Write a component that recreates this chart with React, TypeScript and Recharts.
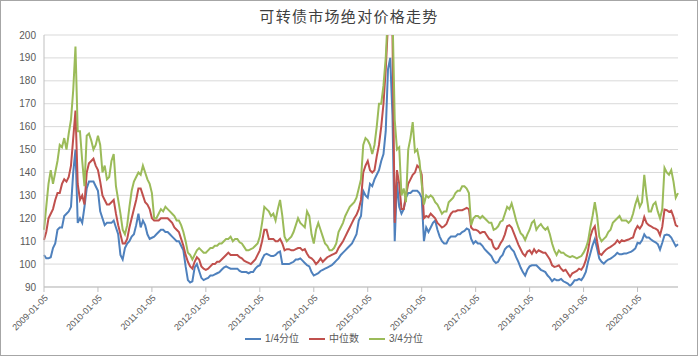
import React from "react";
import { LineChart, Line, XAxis, YAxis, CartesianGrid, Legend } from "recharts";

// one sample every half month, index 0 = 2009-01-05
const tickLabels = [
  "2009-01-05", "2010-01-05", "2011-01-05", "2012-01-05", "2013-01-05", "2014-01-05",
  "2015-01-05", "2016-01-05", "2017-01-05", "2018-01-05", "2019-01-05", "2020-01-05",
];
const stepsPerYear = 24;
const yTicks = [90, 100, 110, 120, 130, 140, 150, 160, 170, 180, 190, 200];

const q1 = [
  104, 102.5, 102.5, 103, 107, 109, 115, 116, 116, 121,
  122, 123, 125, 140, 150, 118, 120, 118, 125, 133,
  136, 136, 136, 134, 132, 123, 120, 117, 118, 118,
  118, 119, 116, 113, 104, 102, 107, 109, 110, 112,
  113, 117, 122, 116, 119, 117, 113, 111, 111.5, 112,
  113, 114, 115, 115, 114, 114, 113, 112, 111, 110,
  110, 108, 106, 99, 93, 92, 92.5, 98.5, 100, 97,
  94, 93, 93.5, 94, 95, 95, 95.5, 96, 96.5, 97.5,
  98.5, 99, 98.5, 98, 98, 98, 98, 97, 96.5, 96.5,
  96.5, 96, 96.5, 96.5, 98, 99, 99.5, 102, 104, 104.5,
  104, 103.5, 103.5, 104, 105, 105.5, 100, 100, 100, 100,
  100.5, 101, 102, 102, 102.5, 101.5, 100.5, 99.5, 99, 96.5,
  95, 95.5, 96, 97, 97.5, 98, 98.5, 99, 99.5, 100.5,
  101.5, 102.5, 104, 105, 106, 107, 108, 109, 111, 113,
  119, 121, 132, 130, 129, 135, 134, 137, 139, 141,
  145, 148, 158, 185, 190, 165, 110, 136, 125, 122,
  124, 129, 131, 131, 132, 132, 132, 131, 129, 110,
  116, 114, 116, 118, 119, 115, 112, 110, 109, 109,
  111, 112, 112, 112, 113, 113, 114, 114.5, 115.5, 115,
  111, 109, 110, 109, 109, 108, 106.5, 105.5, 104.5, 103.5,
  101.5, 100.5, 101, 103, 104, 106.5, 107.5, 108, 106.5, 105.5,
  103, 101, 98.5, 96.5, 95, 97.5, 99, 99.5, 99.5, 99.5,
  98.5, 97.5, 97, 96.5, 95, 94, 92.5, 93.5, 93, 93,
  93.5, 92.5, 92, 91.5, 90.5, 91.5, 93, 93, 93.5, 93,
  94.5, 96.6, 101, 104.6, 108.2, 110.9, 106.8, 102.4, 101, 100.2,
  101.2, 102, 102.4, 103.1, 103.9, 104.9, 104.3, 104.3, 104.6, 104.6,
  105, 105.3, 106, 106.8, 109.3, 109, 110.4, 113, 111.6, 111.6,
  110.7, 110, 109.5, 108.7, 106.3, 109.3, 112.6, 112.9, 112.6, 111.6,
  109.7, 107.8, 108.7,
];

const median = [
  110.5, 114, 120, 122, 124, 128, 131, 131, 135, 137,
  136, 138, 143, 155, 167, 135, 128, 130, 126, 140,
  144, 145, 146, 143, 141, 136, 130, 128, 126, 126,
  127, 128, 122, 117, 113, 109, 109, 111, 116, 120,
  124, 128, 133, 133, 130, 127, 126, 124, 120, 119,
  119, 119, 120, 120, 120, 120, 119, 118, 116, 115,
  114, 111, 108, 104, 101, 99, 98, 101, 103, 102,
  99, 98, 97.5, 98, 99, 100, 100, 101, 101, 102,
  103, 104, 105, 104, 104, 104, 104, 103, 102.5, 101.5,
  101, 100.5, 100, 101, 102, 104, 106, 110, 115, 115,
  111, 111, 111, 110, 110, 111, 109, 106, 106.5, 106.5,
  106, 106, 106.5, 107, 107, 106, 106.5, 104.5, 103, 102.5,
  101.5, 100, 101, 102.5, 101, 102, 103, 103.5, 104, 104.5,
  105, 107, 108.5, 110, 112, 114, 116, 118, 120, 121.5,
  124, 128, 140, 143, 145, 141, 140, 141, 147, 152,
  160, 170, 185, 205, 210, 200, 118, 141, 135, 124,
  124, 130, 135, 137, 139, 140, 143, 142, 139, 120,
  121, 120.5, 122, 121, 120, 118, 117, 116, 116.5, 117.5,
  120, 122, 123, 123, 123.5, 123.5, 123.5, 124, 124.5, 124,
  116, 115, 115, 114.5, 113.5, 114, 114, 112.5, 111, 110.5,
  107.5, 106.5, 107, 109, 110.5, 113, 116.5, 117, 116, 113.5,
  111, 108.5, 106.5, 104.5, 103.5, 105.5, 106, 104.5, 106.5, 105,
  106, 105.5, 105, 105, 103.5, 102, 99.5, 98.8, 99, 99.5,
  98, 97, 97.5, 96, 94.5, 96, 96.5, 97, 98, 97.5,
  99, 101.7, 106, 112, 115, 116.5, 110, 104.6, 104, 105.3,
  106.3, 107, 107.5, 108.2, 109, 110.4, 109.3, 110.4, 110, 110.4,
  110.7, 111.2, 111.6, 114.8, 116.6, 115.5, 117, 120.6, 118, 117,
  116.5, 115.8, 115.5, 114.8, 112.6, 116.3, 123.8, 123.5, 122.8, 123.3,
  120.6, 117, 116.3,
];

const q3 = [
  115, 125, 135, 141, 135, 140, 145, 152, 151, 155,
  150, 157, 163, 176, 195, 158, 158, 145, 134, 156,
  157, 154, 150, 152, 156, 152, 140, 143, 137, 138,
  145, 148, 134, 128, 122, 115, 113, 117, 125, 132,
  136, 138, 140, 139, 143, 140, 137, 135, 131, 120,
  120, 122, 124, 123, 125, 124, 123, 122, 121, 119,
  119, 117, 114, 110, 105, 104, 102, 104, 106, 107,
  106, 105, 105, 106, 107, 107, 108, 108, 109, 109,
  110, 111, 111, 112, 110, 111, 111, 109.5, 109, 107.5,
  106, 106, 106.5, 107, 108, 109, 112, 118, 125, 124,
  123, 121, 122, 119, 124, 128, 121, 112, 110, 111,
  112, 114, 117, 120, 118, 117, 116, 123, 121, 113,
  109, 115, 118, 115, 112, 109, 108, 106, 106, 107,
  109, 114, 116, 118, 121, 123, 125, 126, 127, 129,
  133, 137, 152, 155, 154, 152, 148, 152, 160, 170,
  170, 178, 190, 210, 215, 210, 163, 150, 151, 130,
  133, 127, 150, 155, 162, 149, 150, 145, 135, 126,
  130, 129, 130, 129, 127, 126, 124, 122, 123, 123,
  127, 128, 129, 131, 132, 132, 134, 134, 133, 131,
  117, 120, 121, 121, 120, 121, 120, 119, 118, 118,
  115, 115.5, 116.5, 118.5, 119, 122, 125, 124, 126.5, 123,
  119, 116, 113.5, 112.5, 110.5, 113, 115, 118, 119, 115,
  116.5, 117.5, 116, 115, 116, 113, 109, 106, 104, 106,
  105, 105, 104, 103.5, 103, 103.5, 103, 102.5, 103, 103.5,
  105, 107, 110, 116, 121, 127, 121, 112, 110, 111,
  112, 114, 115, 118, 119, 120, 121, 119, 119, 119,
  118, 119, 122, 126, 129, 125, 127, 139, 130, 123,
  123, 126, 127, 123, 120, 124, 142, 140, 139, 141,
  136, 129, 131,
];

const seriesNames = ["1/4分位", "中位数", "3/4分位"];

const data = q1.map((v, i) => ({ i, q1: v, median: median[i], q3: q3[i] }));
const xTicks = tickLabels.map((_, k) => k * stepsPerYear);

const axisFont = "'Liberation Sans', 'Noto Sans CJK SC', sans-serif";

export default function App() {
  return (
    <div style={{ position: "absolute", left: 0, top: 0, width: 698, height: 356, background: "#fff" }}>
      <div
        style={{
          position: "absolute",
          left: 0,
          top: 6,
          width: 698,
          textAlign: "center",
          fontFamily: "'Noto Sans CJK SC', sans-serif",
          fontSize: 15,
          letterSpacing: 1.3,
          color: "#404040",
          lineHeight: "20px",
        }}
      >
        可转债市场绝对价格走势
      </div>
      <LineChart width={698} height={356} data={data} margin={{ top: 35, right: 20, bottom: 6, left: 0 }}>
        <CartesianGrid vertical={false} stroke="#d9d9d9" />
        <XAxis
          type="number"
          dataKey="i"
          domain={[0, q1.length - 1]}
          ticks={xTicks}
          interval={0}
          tickFormatter={(v: number) => tickLabels[Math.round(v / stepsPerYear)]}
          angle={-45}
          textAnchor="end"
          height={43}
          tickSize={5}
          stroke="#bfbfbf"
          tick={{ fontSize: 9, fill: "#595959", fontFamily: axisFont }}
        />
        <YAxis
          domain={[90, 200]}
          ticks={yTicks}
          interval={0}
          allowDataOverflow
          width={44}
          tickLine={false}
          stroke="#bfbfbf"
          tick={{ fontSize: 10, fill: "#595959", fontFamily: axisFont }}
        />
        <Legend
          verticalAlign="bottom"
          height={20}
          iconType="plainline"
          iconSize={16}
          itemSorter={(item: any) => seriesNames.indexOf(item.value)}
          wrapperStyle={{ fontSize: 10, fontFamily: axisFont }}
          formatter={(value: string) => <span style={{ color: "#595959" }}>{value}</span>}
        />
        <Line type="linear" dataKey="q1" name={seriesNames[0]} stroke="#4F81BD" strokeWidth={2} dot={false} isAnimationActive={false} />
        <Line type="linear" dataKey="median" name={seriesNames[1]} stroke="#C0504D" strokeWidth={2} dot={false} isAnimationActive={false} />
        <Line type="linear" dataKey="q3" name={seriesNames[2]} stroke="#9BBB59" strokeWidth={2} dot={false} isAnimationActive={false} />
      </LineChart>
      <div
        style={{
          position: "absolute",
          left: 0,
          top: 0,
          width: 698,
          height: 356,
          boxSizing: "border-box",
          border: "1px solid #a6a6a6",
          pointerEvents: "none",
        }}
      />
    </div>
  );
}
